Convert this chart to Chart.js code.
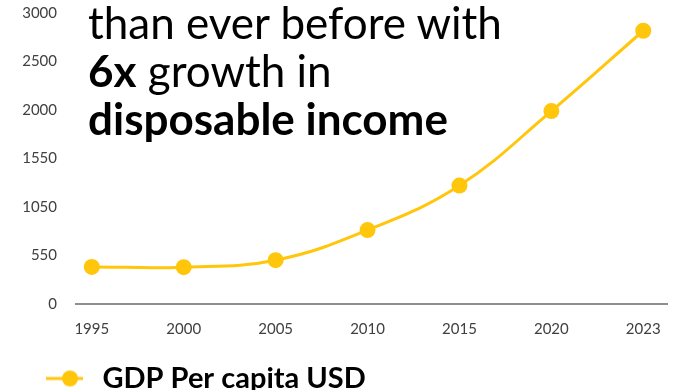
<!DOCTYPE html>
<html>
<head>
<meta charset="utf-8">
<script src="https://cdn.jsdelivr.net/npm/chart.js@4/dist/chart.umd.min.js"></script>
<style>
  html, body { margin: 0; padding: 0; background: #fff; }
  #wrap { position: relative; width: 677px; height: 390px; overflow: hidden; }
  #headline {
    position: absolute; left: 88px; top: -2px;
    font-family: Lato, "Noto Sans", sans-serif; font-size: 44px; line-height: 48px;
    color: #000; white-space: nowrap; pointer-events: none;
  }
  #headline b { font-weight: 700; }
</style>
</head>
<body>
<div id="wrap">
  <canvas id="gdpChart" width="677" height="390"></canvas>
  <div id="headline">than ever before with<br><b>6x</b> growth in<br><b>disposable income</b></div>
</div>
<script>
const years = ['1995', '2000', '2005', '2010', '2015', '2020', '2023'];
const gdpPerCapita = [382, 380, 452, 762, 1221, 1989, 2817];
const yTickLabels = ['0', '550', '1050', '1550', '2000', '2500', '3000'];

const gold = '#FFC60B';

// legend marker: short line with a dot on it
const marker = document.createElement('canvas');
marker.width = 88;
marker.height = 20;
const mctx = marker.getContext('2d');
mctx.strokeStyle = gold;
mctx.lineWidth = 3;
mctx.beginPath();
mctx.moveTo(46, 10);
mctx.lineTo(83, 10);
mctx.stroke();
mctx.fillStyle = gold;
mctx.beginPath();
mctx.arc(70, 10, 8, 0, Math.PI * 2);
mctx.fill();

const tickFont = { family: 'Lato, "Noto Sans", sans-serif', size: 15 };

new Chart(document.getElementById('gdpChart'), {
  type: 'line',
  data: {
    datasets: [
      {
        label: 'GDP Per capita USD',
        data: gdpPerCapita.map((v, i) => ({ x: i, y: v })),
        borderColor: gold,
        backgroundColor: gold,
        borderWidth: 3,
        tension: 0.4,
        pointRadius: 8,
        pointHoverRadius: 8,
        pointBorderWidth: 0,
        pointStyle: 'circle',
      },
    ],
  },
  options: {
    responsive: false,
    animation: false,
    layout: { padding: { top: 13, right: 2, left: 0, bottom: -13 } },
    plugins: {
      tooltip: { enabled: false },
      legend: {
        position: 'bottom',
        align: 'start',
        labels: {
          usePointStyle: true,
          pointStyle: marker,
          pointStyleWidth: 88,
          padding: 0,
          color: '#000',
          font: { family: 'Lato, "Noto Sans", sans-serif', size: 29, weight: 'bold' },
        },
      },
    },
    scales: {
      x: {
        type: 'linear',
        min: -0.172,
        max: 6.269,
        afterBuildTicks: (s) => {
          s.ticks = years.map((_, i) => ({ value: i }));
        },
        afterFit: (s) => {
          s.height = 60;
        },
        grid: { display: false, drawTicks: false },
        border: { display: true, color: '#8f8f8f', width: 2 },
        ticks: {
          padding: 16,
          color: '#404040',
          font: tickFont,
          maxRotation: 0,
          callback: (v) => years[v],
        },
      },
      y: {
        min: 0,
        max: 3000,
        afterBuildTicks: (s) => {
          s.ticks = yTickLabels.map((_, i) => ({ value: i * 500 }));
        },
        afterFit: (s) => {
          // fixed axis width; tick padding should not push the plot down
          s.width = 76;
          s.paddingTop = 0;
          s.paddingBottom = 0;
        },
        grid: { display: false, drawTicks: false },
        border: { display: false },
        ticks: {
          padding: 19,
          color: '#404040',
          font: tickFont,
          callback: (v, i) => yTickLabels[i],
        },
      },
    },
  },
});
</script>
</body>
</html>
